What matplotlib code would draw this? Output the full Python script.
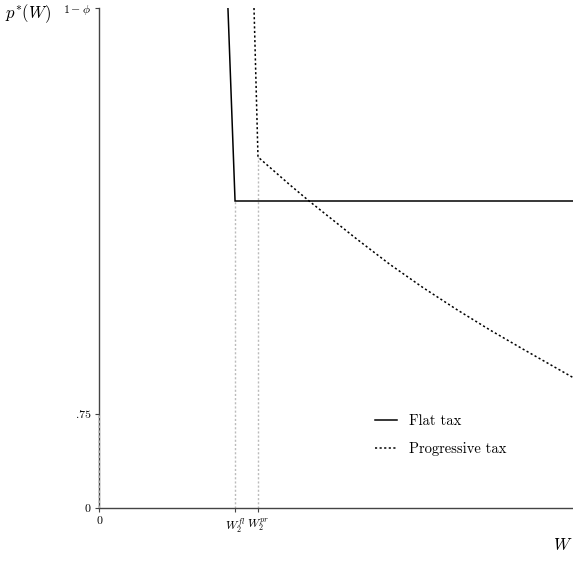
import matplotlib
matplotlib.use("Agg")
import matplotlib.pyplot as plt

plt.rcParams['font.family'] = ['cmr10', 'DejaVu Serif']
plt.rcParams['mathtext.fontset'] = 'cm'
plt.rcParams['axes.formatter.use_mathtext'] = True

# Data (normalized schematic units)
w_fl = 0.287
w_pr = 0.335
flat_x = [0.272, w_fl, 1.0]
flat_y = [1.0, 0.614, 0.614]
prog_x = [0.327, 0.3354, 0.403, 0.445, 0.5437, 0.614, 0.684, 0.7546, 0.8249, 0.895, 1.0]
prog_y = [1.0, 0.702, 0.646, 0.6126, 0.538, 0.487, 0.4405, 0.397, 0.356, 0.3175, 0.261]
ytick_pos = [0.0, 0.188, 1.0]
ytick_labels = ['0', '.75', r'$1-\phi$']
xtick_pos = [0.0, w_fl, w_pr]
xtick_labels = ['0', r'$W_2^{fl}$', r'$W_2^{pr}$']

fig = plt.figure(figsize=(5.73, 5.83), dpi=100)
ax = fig.add_axes([0.1728, 0.1286, 0.8272, 0.8577])

ax.plot(flat_x, flat_y, color='black', lw=1.1, label='Flat tax', solid_joinstyle='miter')
ax.plot(prog_x, prog_y, color='black', lw=1.1, ls=(0, (1.4, 1.6)), label='Progressive tax')

ax.vlines([w_fl], 0, flat_y[1], colors='#bbbbbb', linestyles=(0, (1.5, 1.5)), lw=1.0, zorder=1)
ax.vlines([w_pr], 0, prog_y[1], colors='#bbbbbb', linestyles=(0, (1.5, 1.5)), lw=1.0, zorder=1)
ax.vlines([0], 0, ytick_pos[1], colors='#bbbbbb', linestyles=(0, (1.5, 1.5)), lw=1.2, zorder=5, clip_on=False)

ax.set_xlim(0, 1)
ax.set_ylim(0, 1)
ax.spines['top'].set_visible(False)
ax.spines['right'].set_visible(False)
for s in ['left', 'bottom']:
    ax.spines[s].set_color('#444444')
    ax.spines[s].set_linewidth(1.0)

ax.set_yticks(ytick_pos)
ax.set_yticklabels(ytick_labels, fontsize=8.5)
ax.set_xticks(xtick_pos)
ax.set_xticklabels(xtick_labels, fontsize=8.5)
ax.tick_params(axis='both', length=3, width=0.8, color='#444444', pad=3)

fig.text(28 / 573, 1 - 14 / 583, r'$p^{*}(W)$', fontsize=12, ha='center', va='center')
fig.text(563 / 573, 1 - 545 / 583, r'$W$', fontsize=12, ha='center', va='center')

leg = ax.legend(loc='upper left', bbox_to_anchor=(0.555, 0.213), frameon=False,
                fontsize=10.5, handlelength=1.5, handletextpad=0.8, labelspacing=0.95)

fig.savefig('out.png', dpi=100)
